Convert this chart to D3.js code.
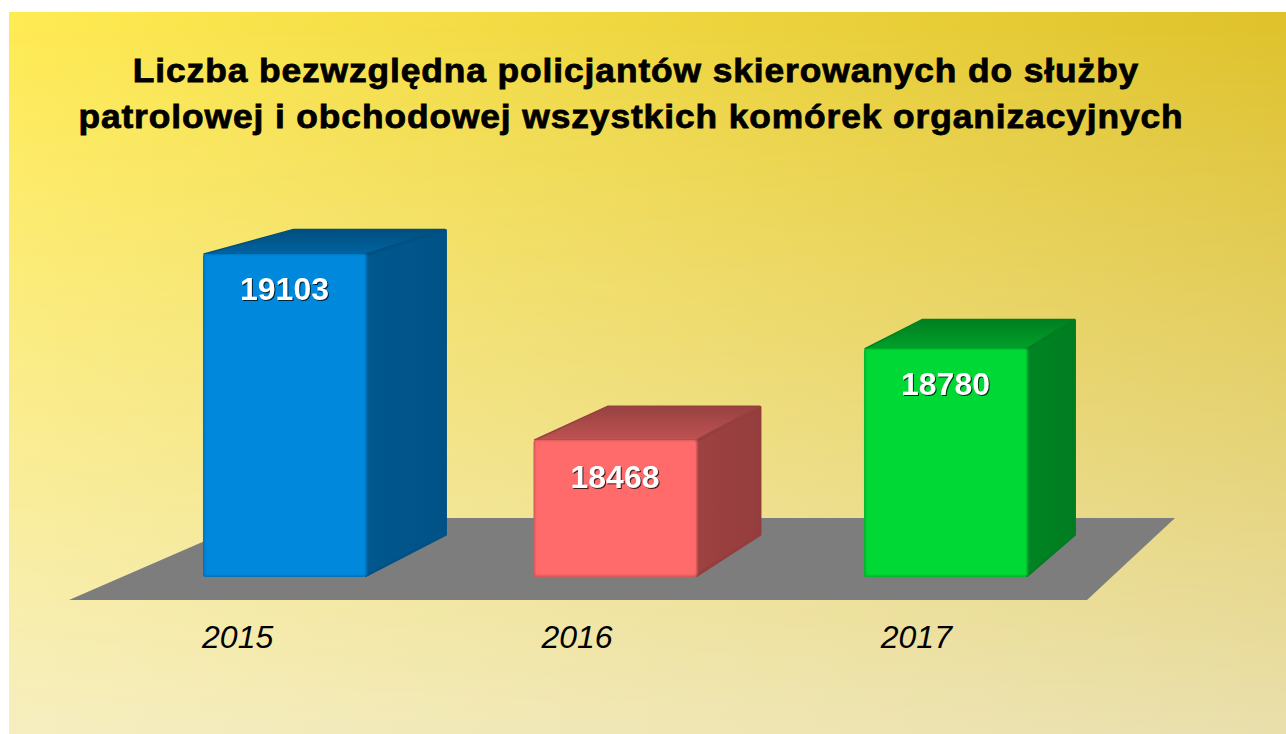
<!DOCTYPE html>
<html>
<head>
<meta charset="utf-8">
<style>
  html, body { margin: 0; background: #fff; }
  text { font-family: "Liberation Sans", sans-serif; }
  .title { font-size: 34px; font-weight: bold; text-anchor: middle; letter-spacing: 0.87px; stroke: #000; stroke-width: 0.8px; }
  .year { font-size: 32px; font-style: italic; text-anchor: middle; }
  .value { font-size: 32px; font-weight: bold; fill: #fff; text-anchor: middle;
           filter: drop-shadow(1.5px 1.5px 0.6px rgba(0,0,0,0.75)); }
</style>
</head>
<body>
<svg width="1286" height="734"></svg>
<script src="https://d3js.org/d3.v7.min.js"></script>
<script>

var titleLines = ["Liczba bezwzględna policjantów skierowanych do służby",
                  "patrolowej i obchodowej wszystkich komórek organizacyjnych"];
var years = ["2015", "2016", "2017"];
var values = [19103, 18468, 18780];
var frontColors = ["#0088dd", "#ff6b6b", "#00d934"];
var sideColors = ["#00568c", "#9b4040", "#008222"];
var topColors = ["#00609a", "#b84f4f", "#009a28"];

var svg = d3.select("svg"),
    defs = svg.append("defs");

// floor corners, the chart is drawn in a fake perspective
var floor = {frontY: 600, backY: 518, frontL: 69, frontR: 1087, backL: 258, backR: 1175};

// front and back wall of the boxes have their own scales
var xFront = d3.scaleBand().domain(years).range([119.25, 1110.75]).paddingInner(0.507).paddingOuter(0.2535);
var xBack = d3.scaleBand().domain(years).range([212.5, 1156]).paddingInner(0.509).paddingOuter(0.2545);
var yFront = d3.scaleLinear().domain([18000, 19103]).range([577, 254]);
var yBack = d3.scaleLinear().domain([18000, 19103]).range([536, 229]);
var xLabel = d3.scaleBand().domain(years).range([floor.frontL, floor.frontR]);

// background, bilinear between the four corners
function hGrad(id, a, b) {
  var g = defs.append("linearGradient").attr("id", id);
  g.append("stop").attr("offset", 0).attr("stop-color", a);
  g.append("stop").attr("offset", 1).attr("stop-color", b);
}
hGrad("bgTop", "#ffeb52", "#dfc22b");
hGrad("bgBottom", "#f6eec0", "#e9dfad");
var fade = defs.append("linearGradient").attr("id", "fade").attr("x2", 0).attr("y2", 1);
fade.append("stop").attr("offset", 0).attr("stop-color", "#000");
fade.append("stop").attr("offset", 1).attr("stop-color", "#fff");
defs.append("mask").attr("id", "fadeMask").attr("maskContentUnits", "objectBoundingBox")
  .append("rect").attr("width", 1).attr("height", 1).attr("fill", "url(#fade)");

svg.append("rect").attr("x", 9).attr("y", 12).attr("width", 1277).attr("height", 722).attr("fill", "url(#bgTop)");
svg.append("rect").attr("x", 9).attr("y", 12).attr("width", 1277).attr("height", 722).attr("fill", "url(#bgBottom)").attr("mask", "url(#fadeMask)");

// title
svg.selectAll(".title").data(titleLines).enter().append("text")
    .attr("class", "title")
    .attr("transform", function(d, i) { return "translate(" + (i ? 631 : 636) + "," + (82 + i * 46) + ") scale(1.04,1)"; })
    .text(function(d) { return d; });

// floor
svg.append("path")
    .attr("fill", "#7d7d7d")
    .attr("d", d3.line()([[floor.frontL, floor.frontY], [floor.frontR, floor.frontY], [floor.backR, floor.backY], [floor.backL, floor.backY]]) + "Z");

// soft shading of the faces
function faceGrad(id, color, x1, y1, x2, y2, darken, lighten) {
  var g = defs.append("linearGradient").attr("id", id)
      .attr("x1", x1).attr("y1", y1).attr("x2", x2).attr("y2", y2);
  g.append("stop").attr("offset", 0).attr("stop-color", d3.color(color).darker(darken));
  g.append("stop").attr("offset", 1).attr("stop-color", d3.color(color).brighter(lighten));
}

var blur = defs.append("filter").attr("id", "soft")
    .attr("x", -0.05).attr("y", -0.05).attr("width", 1.1).attr("height", 1.1);
blur.append("feGaussianBlur").attr("stdDeviation", 1);

var boxes = svg.append("g").selectAll("g")
    .data(years)
    .enter().append("g");

function corners(d, i) {
  return {
    fl: xFront(d), fr: xFront(d) + xFront.bandwidth(), ft: yFront(values[i]), fb: yFront.range()[0],
    bl: xBack(d), br: xBack(d) + xBack.bandwidth(), bt: yBack(values[i]), bb: yBack.range()[0]
  };
}

// right face, drawn first so the top face sits over the shared edge
boxes.append("path")
    .attr("fill", function(d, i) {
      faceGrad("side" + i, sideColors[i], 1, 0, 0, 0, 0.12, 0.05);
      return "url(#side" + i + ")";
    })
    .attr("stroke", function(d, i) { return d3.color(sideColors[i]).darker(0.12); })
    .attr("stroke-width", 3)
    .attr("stroke-linejoin", "round")
    .attr("d", function(d, i) {
      var c = corners(d, i);
      return d3.line()([[c.fr, c.ft + 1], [c.br - 1.5, c.bt + 1.5], [c.br - 1.5, c.bb - 1.5], [c.fr, c.fb - 1.5]]) + "Z";
    });

// top face
boxes.append("path")
    .attr("fill", function(d, i) {
      faceGrad("top" + i, topColors[i], 0, 0, 0, 1, 0.55, 0.1);
      return "url(#top" + i + ")";
    })
    .attr("stroke", function(d, i) { return d3.color(topColors[i]).darker(0.55); })
    .attr("stroke-width", 1.5)
    .attr("stroke-linejoin", "round")
    .attr("d", function(d, i) {
      var c = corners(d, i);
      return d3.line()([[c.fl + 1, c.ft], [c.fr, c.ft], [c.br - 2, c.bt + 0.5], [c.bl + 1, c.bt + 0.5]]) + "Z";
    });

// front face, darker rim underneath and a soft fill on top that bleeds over the right edge
boxes.append("rect")
    .attr("x", function(d) { return xFront(d); })
    .attr("y", function(d, i) { return yFront(values[i]); })
    .attr("width", xFront.bandwidth() - 1)
    .attr("height", function(d, i) { return yFront.range()[0] - yFront(values[i]); })
    .attr("rx", 2.5)
    .attr("fill", function(d, i) { return d3.color(frontColors[i]).darker(0.6); });

boxes.append("rect")
    .attr("x", function(d) { return xFront(d) + 1.5; })
    .attr("y", function(d, i) { return yFront(values[i]) + 0.5; })
    .attr("width", xFront.bandwidth() - 1)
    .attr("height", function(d, i) { return yFront.range()[0] - yFront(values[i]) - 2; })
    .attr("fill", function(d, i) { return frontColors[i]; })
    .attr("filter", "url(#soft)");

// value labels, the 2016 one sits a little lower in the picture
var labelDrop = [46, 48, 46.5];
boxes.append("text")
    .attr("class", "value")
    .attr("x", function(d) { return xFront(d) + xFront.bandwidth() / 2; })
    .attr("y", function(d, i) { return yFront(values[i]) + labelDrop[i]; })
    .text(function(d, i) { return values[i]; });

// category labels
svg.selectAll(".year").data(years).enter().append("text")
    .attr("class", "year")
    .attr("x", function(d) { return xLabel(d) + xLabel.bandwidth() / 2 - 1; })
    .attr("y", 648)
    .text(function(d) { return d; });

</script>
</body>
</html>
